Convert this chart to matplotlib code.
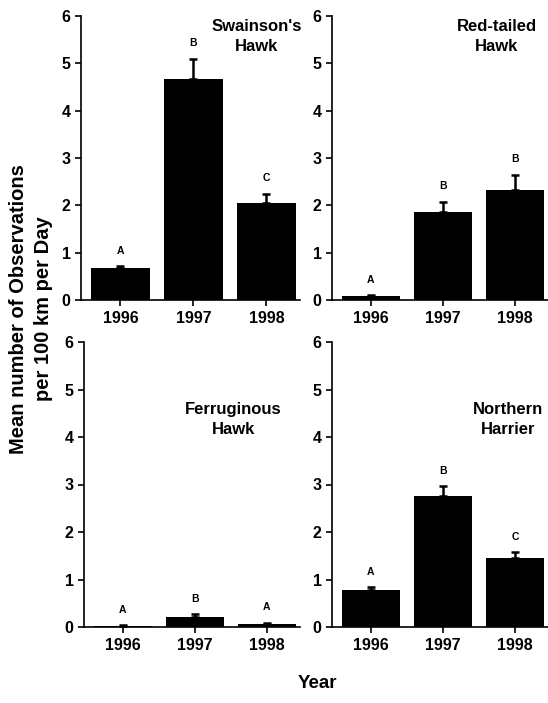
import matplotlib.pyplot as plt

plt.rcParams['font.family'] = ['Liberation Sans', 'DejaVu Sans']
plt.rcParams['font.weight'] = 'bold'

years = ['1996', '1997', '1998']

# species panels: means, upper error, significance letters
swainson = [0.67, 4.67, 2.05]
swainson_err = [0.05, 0.43, 0.20]
swainson_lab = ['A', 'B', 'C']

redtail = [0.08, 1.85, 2.33]
redtail_err = [0.02, 0.23, 0.32]
redtail_lab = ['A', 'B', 'B']

ferrug = [0.03, 0.22, 0.07]
ferrug_err = [0.01, 0.05, 0.02]
ferrug_lab = ['A', 'B', 'A']

harrier = [0.78, 2.75, 1.45]
harrier_err = [0.06, 0.21, 0.13]
harrier_lab = ['A', 'B', 'C']

fig = plt.figure(figsize=(5.48, 7.03), dpi=100)
W, H = 548, 703

def make_axes(x0, x1, ytop, ybot):
    return fig.add_axes([x0 / W, 1 - ybot / H, (x1 - x0) / W, (ybot - ytop) / H])

panels = [
    (make_axes(81, 300, 16, 300), swainson, swainson_err, swainson_lab, "Swainson's\nHawk", 1.87, 0.99),
    (make_axes(332, 548, 16, 300), redtail, redtail_err, redtail_lab, "Red-tailed\nHawk", 1.75, 0.99),
    (make_axes(84, 300, 342, 627), ferrug, ferrug_err, ferrug_lab, "Ferruginous\nHawk", 1.53, 0.79),
    (make_axes(332, 548, 342, 627), harrier, harrier_err, harrier_lab, "Northern\nHarrier", 1.9, 0.79),
]

x = [0, 1, 2]
for ax, vals, errs, labs, title, tx, ty in panels:
    ax.bar(x, vals, width=0.8, color='black')
    ax.errorbar(x, vals, yerr=[[0, 0, 0], errs], fmt='none', ecolor='black',
                elinewidth=1.8, capsize=3.2, capthick=1.8)
    for xi, v, e, lab in zip(x, vals, errs, labs):
        ax.text(xi, v + e + 0.22, lab, ha='center', va='bottom', fontsize=7.5,
                fontweight='bold')
    ax.text(tx, 6 * ty, title, ha='center', va='top', fontsize=12,
            fontweight='bold', linespacing=1.4, clip_on=False)
    ax.set_ylim(0, 6)
    ax.set_xlim(-0.54, 2.46)
    ax.set_yticks(range(7))
    ax.set_xticks(x)
    ax.set_xticklabels(years)
    ax.spines['top'].set_visible(False)
    ax.spines['right'].set_visible(False)
    ax.spines['left'].set_linewidth(1.2)
    ax.spines['bottom'].set_linewidth(1.2)
    ax.tick_params(axis='both', labelsize=11.5, width=1.2, length=4)
    ax.tick_params(axis='x', pad=4)
    for t in ax.get_xticklabels() + ax.get_yticklabels():
        t.set_fontweight('bold')

fig.text(31 / W, 1 - 309 / H, 'Mean number of Observations\nper 100 km per Day',
         rotation=90, ha='center', va='center', fontsize=14.5, fontweight='bold',
         linespacing=1.35)
fig.text(317 / W, 1 - 683 / H, 'Year', ha='center', va='center', fontsize=13.5,
         fontweight='bold')

fig.savefig('out.png', dpi=100)
